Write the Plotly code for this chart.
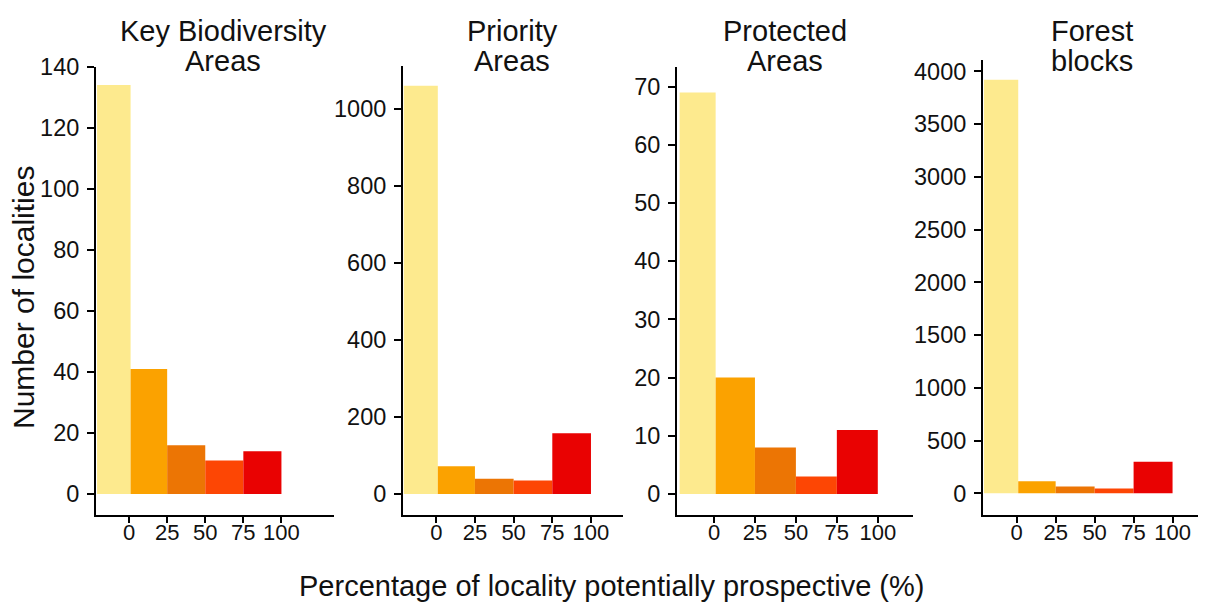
import plotly.graph_objects as go

# ---- data ----
bin_left = [-21, 1, 25, 50, 75]
bin_right = [1, 25, 50, 75, 100]
bin_colors = ["#FDEA8E", "#FBA200", "#EC7504", "#FD4604", "#E90202"]
x_ticks = [0, 25, 50, 75, 100]

kba = [134, 41, 16, 11, 14]
priority = [1060, 72, 40, 35, 158]
protected = [69, 20, 8, 3, 11]
forest = [3920, 115, 64, 45, 300]

titles = [["Key Biodiversity", "Areas"], ["Priority", "Areas"],
          ["Protected", "Areas"], ["Forest", "blocks"]]
series = [kba, priority, protected, forest]

# page body has an 8px margin; figure fills the rest of the 1206x603 window
OFF = 8
W, H = 1206 - OFF, 603 - OFF
FONT = "Liberation Sans, Arial, sans-serif"
TXT = "#111111"


def fx(x):
    return (x - OFF) / W


def fy(y):
    return 1 - (y - OFF) / H


# layout geometry (target window pixels) per panel
geom = [
    dict(xd=(96, 334), ytop=66.8, xr=[-21.7, 134.5], yr=[-6.7, 140.0], dtick=20, tcx=223),
    dict(xd=(403, 623), ytop=65.8, xr=[-21.5, 120.7], yr=[-53.1, 1111.6], dtick=200, tcx=512),
    dict(xd=(677, 913), ytop=66.5, xr=[-22.6, 121.5], yr=[-3.52, 73.45], dtick=10, tcx=785),
    dict(xd=(983, 1200), ytop=59.6, xr=[-21.6, 117.6], yr=[-201, 4112], dtick=500, tcx=1092),
]
YBOT = 514.5

centers = [(l + r) / 2 for l, r in zip(bin_left, bin_right)]
widths = [r - l for l, r in zip(bin_left, bin_right)]

fig = go.Figure()
layout = {}
annotations = []
for i, (vals, g, t) in enumerate(zip(series, geom, titles)):
    sfx = "" if i == 0 else str(i + 1)
    xa, ya = "x" + sfx, "y" + sfx
    fig.add_trace(go.Bar(
        x=centers, y=vals, width=widths,
        marker=dict(color=bin_colors, line=dict(width=0)),
        xaxis=xa, yaxis=ya, showlegend=False, hoverinfo="skip",
    ))
    layout["xaxis" + sfx] = dict(
        domain=[fx(g["xd"][0]), fx(g["xd"][1])], range=g["xr"], anchor=ya,
        showline=True, linecolor="black", linewidth=2,
        ticks="outside", ticklen=6, tickwidth=1.6, tickcolor="black",
        tickvals=x_ticks, showgrid=False, zeroline=False, automargin=False,
        ticklabelstandoff=-9,
        tickfont=dict(family=FONT, size=22, color=TXT), fixedrange=True,
    )
    layout["yaxis" + sfx] = dict(
        domain=[fy(YBOT), fy(g["ytop"])], range=g["yr"], anchor=xa,
        showline=True, linecolor="black", linewidth=2,
        ticks="outside", ticklen=7, tickwidth=1.6, tickcolor="black",
        tick0=0, dtick=g["dtick"], showgrid=False, zeroline=False, automargin=False,
        ticklabelstandoff=3,
        tickfont=dict(family=FONT, size=23.5, color=TXT), fixedrange=True,
    )
    for line, yc in zip(t, [31, 61]):
        annotations.append(dict(
            text=line, x=fx(g["tcx"]), y=fy(yc), xref="paper", yref="paper",
            xanchor="center", yanchor="middle", showarrow=False,
            font=dict(family=FONT, size=29, color=TXT),
        ))

annotations.append(dict(
    text="Percentage of locality potentially prospective (%)",
    x=fx(611), y=fy(586), xref="paper", yref="paper",
    xanchor="center", yanchor="middle", showarrow=False,
    font=dict(family=FONT, size=29, color=TXT),
))
annotations.append(dict(
    text="Number of localities", textangle=-90,
    x=fx(23), y=fy(298), xref="paper", yref="paper",
    xanchor="center", yanchor="middle", showarrow=False,
    font=dict(family=FONT, size=30, color=TXT),
))

fig.update_layout(
    width=W, height=H, margin=dict(l=0, r=0, t=0, b=0, autoexpand=False),
    paper_bgcolor="white", plot_bgcolor="white",
    annotations=annotations, **layout,
)

fig.write_html("out.html")
